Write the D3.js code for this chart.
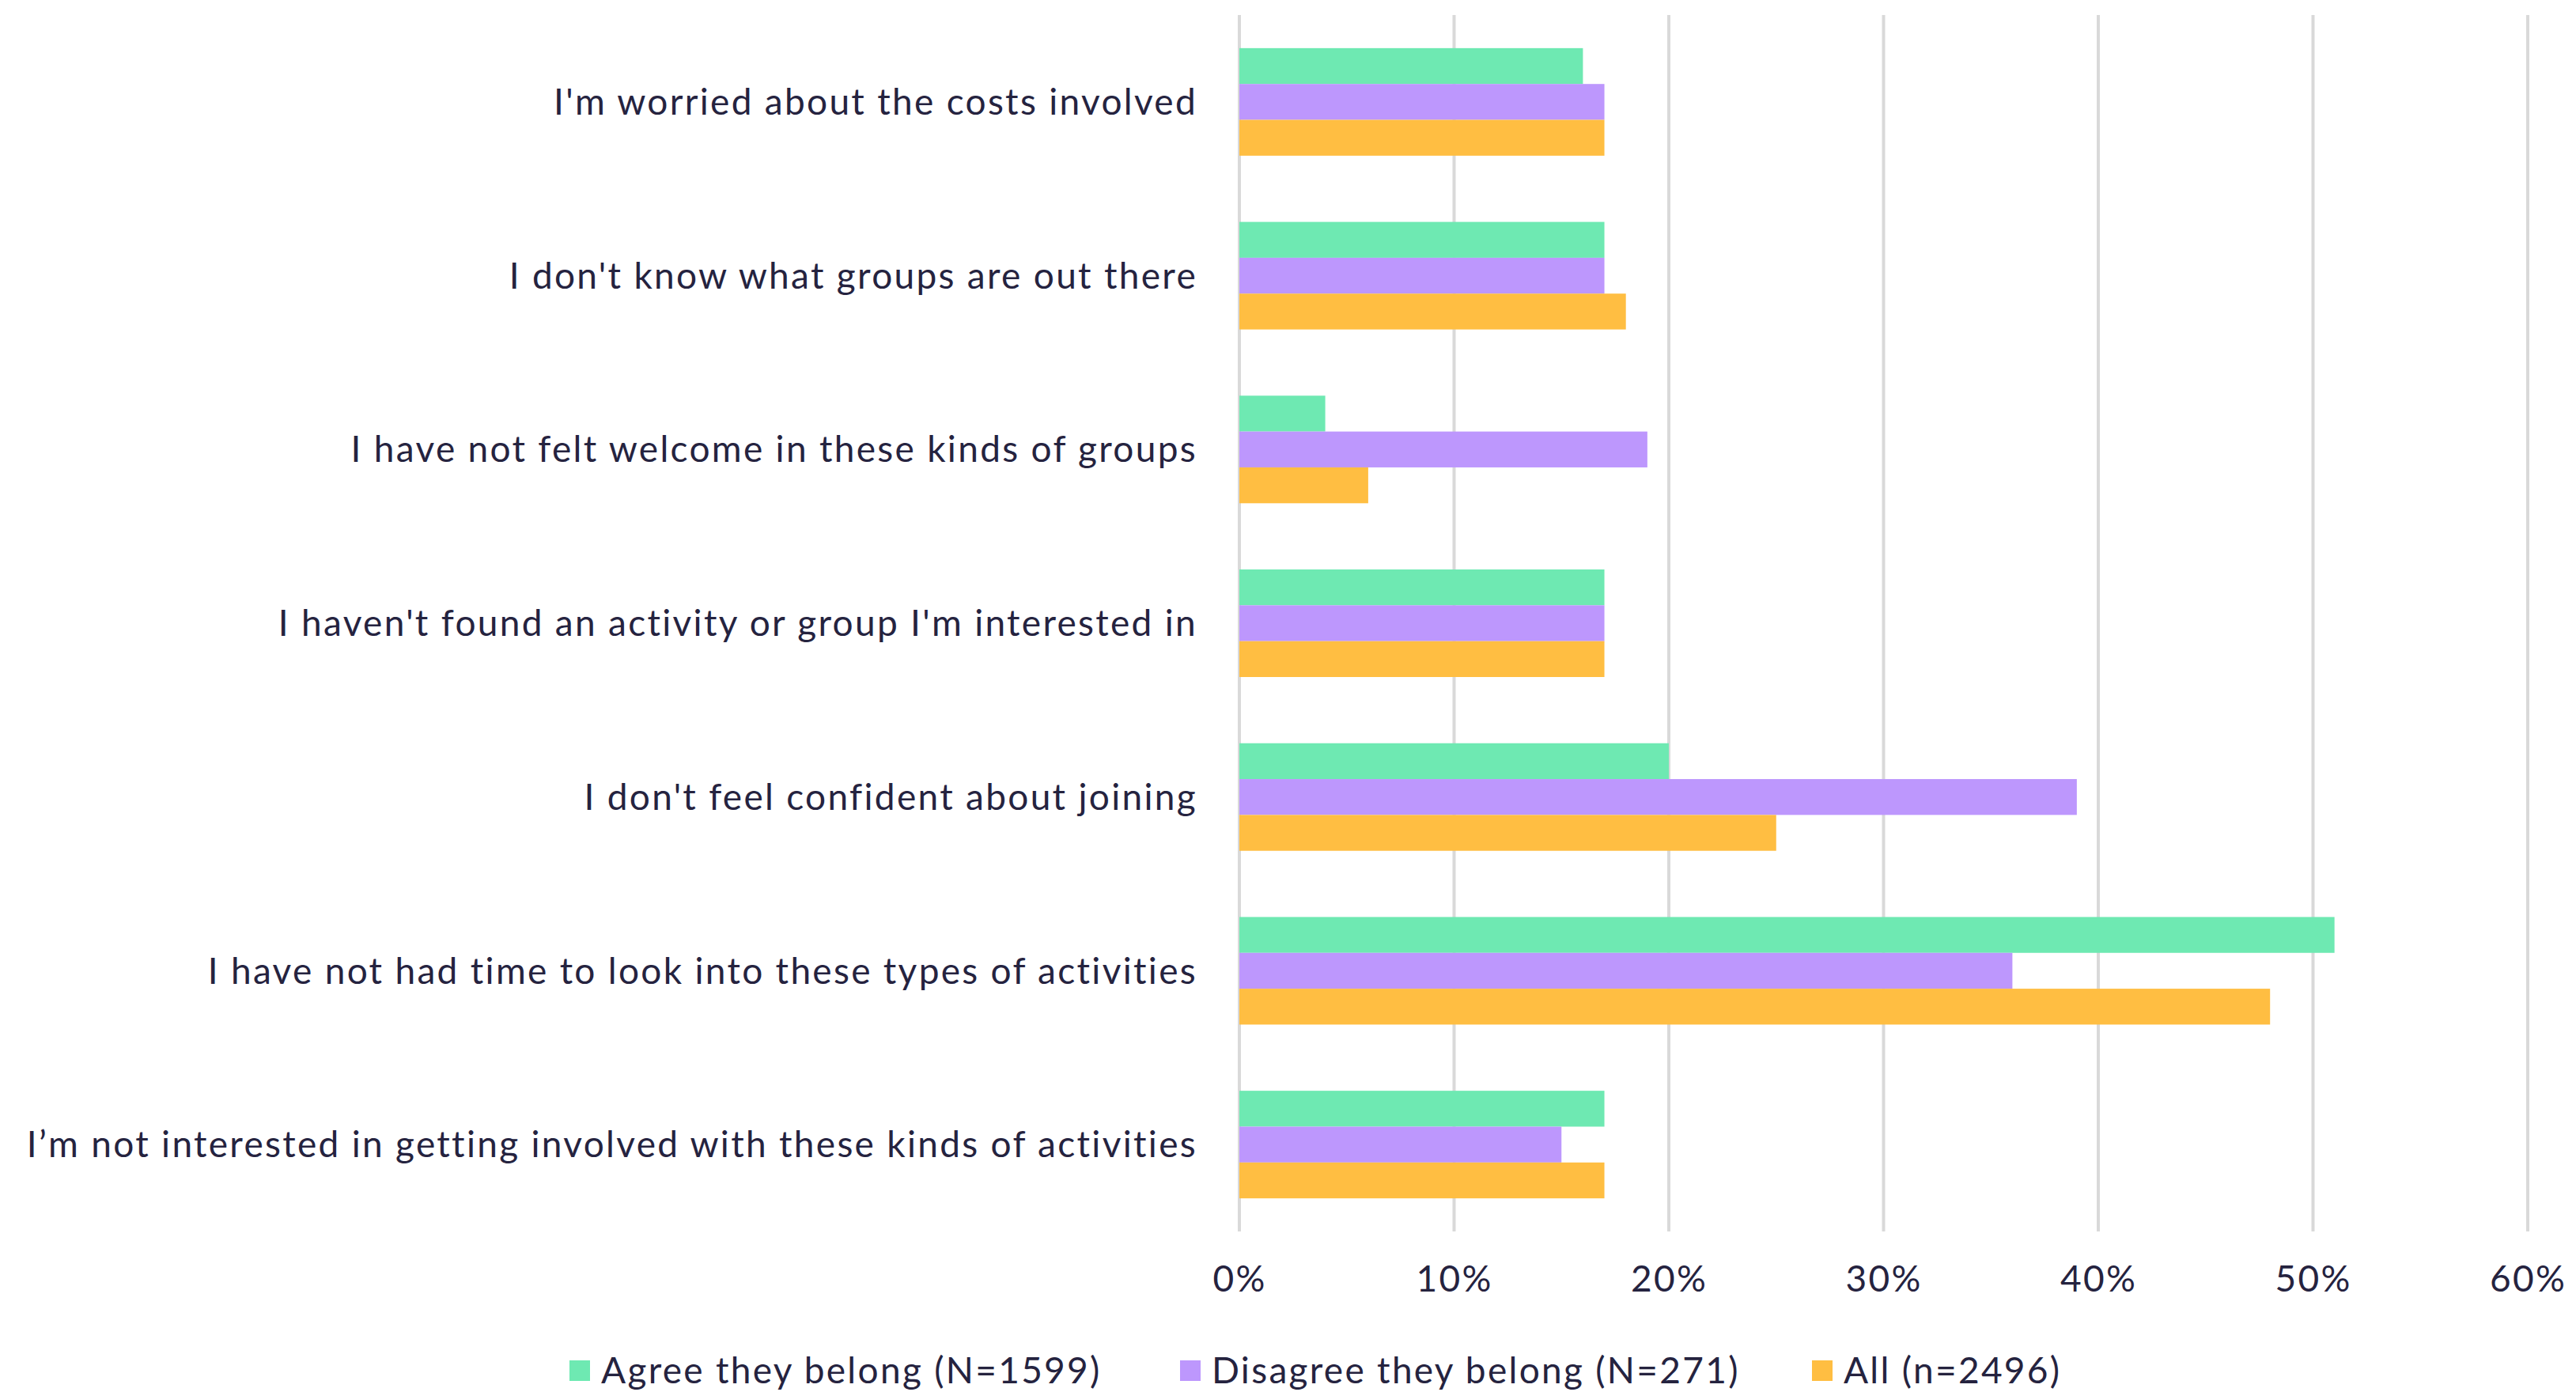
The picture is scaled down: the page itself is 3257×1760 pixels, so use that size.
<!DOCTYPE html>
<html>
<head>
<meta charset="utf-8">
<script src="https://cdn.jsdelivr.net/npm/d3@7"></script>
<style>
  html, body { margin: 0; padding: 0; background: #ffffff; }
  svg { display: block; }
  text { font-family: Lato, "Open Sans", sans-serif; fill: #25233f; letter-spacing: 2.3px; }
</style>
</head>
<body>
<svg id="chart" width="3257" height="1760"></svg>
<script>
// Reasons for not joining groups, split by sense of belonging
const categories = [
  "I'm worried about the costs involved",
  "I don't know what groups are out there",
  "I have not felt welcome in these kinds of groups",
  "I haven't found an activity or group I'm interested in",
  "I don't feel confident about joining",
  "I have not had time to look into these types of activities",
  "I’m not interested in getting involved with these kinds of activities"
];
const seriesNames = ["Agree they belong (N=1599)", "Disagree they belong (N=271)", "All (n=2496)"];
const agreeValues    = [16, 17, 4, 17, 20, 51, 17];
const disagreeValues = [17, 17, 19, 17, 39, 36, 15];
const allValues      = [17, 18, 6, 17, 25, 48, 17];
const seriesColors = ["#6ee9b2", "#bd97fd", "#ffbe42"];
const xTicks = [0, 10, 20, 30, 40, 50, 60];

const seriesValues = [agreeValues, disagreeValues, allValues];

const svg = d3.select("#chart");
const plot = { left: 1567, right: 3196, top: 19, bottom: 1557 };

const x = d3.scaleLinear().domain([0, 60]).range([plot.left, plot.right]);
const y = d3.scaleBand().domain(categories).range([plot.top, plot.bottom])
  .paddingInner(0.381).paddingOuter(0.1905);
const ySub = d3.scaleBand().domain(d3.range(seriesNames.length)).range([0, y.bandwidth()]);

// vertical gridlines
svg.append("g")
  .selectAll("line")
  .data(xTicks)
  .join("line")
  .attr("x1", d => x(d)).attr("x2", d => x(d))
  .attr("y1", plot.top).attr("y2", plot.bottom)
  .attr("stroke", "#d9d9d9")
  .attr("stroke-width", 4);

// bars
const groups = svg.append("g")
  .selectAll("g")
  .data(categories)
  .join("g")
  .attr("transform", d => `translate(0,${y(d)})`);

groups.selectAll("rect")
  .data((c, i) => seriesValues.map((vals, s) => ({ s, v: vals[i] })))
  .join("rect")
  .attr("x", x(0))
  .attr("y", d => ySub(d.s))
  .attr("width", d => x(d.v) - x(0))
  .attr("height", ySub.bandwidth())
  .attr("fill", d => seriesColors[d.s]);

// category labels
svg.append("g")
  .selectAll("text")
  .data(categories)
  .join("text")
  .attr("x", 1514)
  .attr("y", d => y(d) + y.bandwidth() / 2)
  .attr("dy", "0.35em")
  .attr("text-anchor", "end")
  .attr("font-size", 46)
  .text(d => d);

// x axis tick labels
const xAxis = d3.axisBottom(x).tickValues(xTicks).tickFormat(d => d + "%").tickSize(0).tickPadding(0);
const axisG = svg.append("g").attr("transform", `translate(0,${plot.bottom})`).call(xAxis);
axisG.select(".domain").remove();
axisG.selectAll("text")
  .attr("y", 60)
  .attr("dy", "0.35em")
  .attr("font-size", 46)
  .attr("font-family", "Lato, sans-serif")
  .attr("fill", "#25233f");

// legend
const legendX = [720, 1492, 2291];
const legend = svg.append("g")
  .selectAll("g")
  .data(seriesNames)
  .join("g")
  .attr("transform", (d, i) => `translate(${legendX[i]},1733)`);
legend.append("rect")
  .attr("x", 0).attr("y", -13)
  .attr("width", 26).attr("height", 26)
  .attr("fill", (d, i) => seriesColors[i]);
legend.append("text")
  .attr("x", 40)
  .attr("dy", "0.35em")
  .attr("font-size", 46)
  .text(d => d);
</script>
</body>
</html>
